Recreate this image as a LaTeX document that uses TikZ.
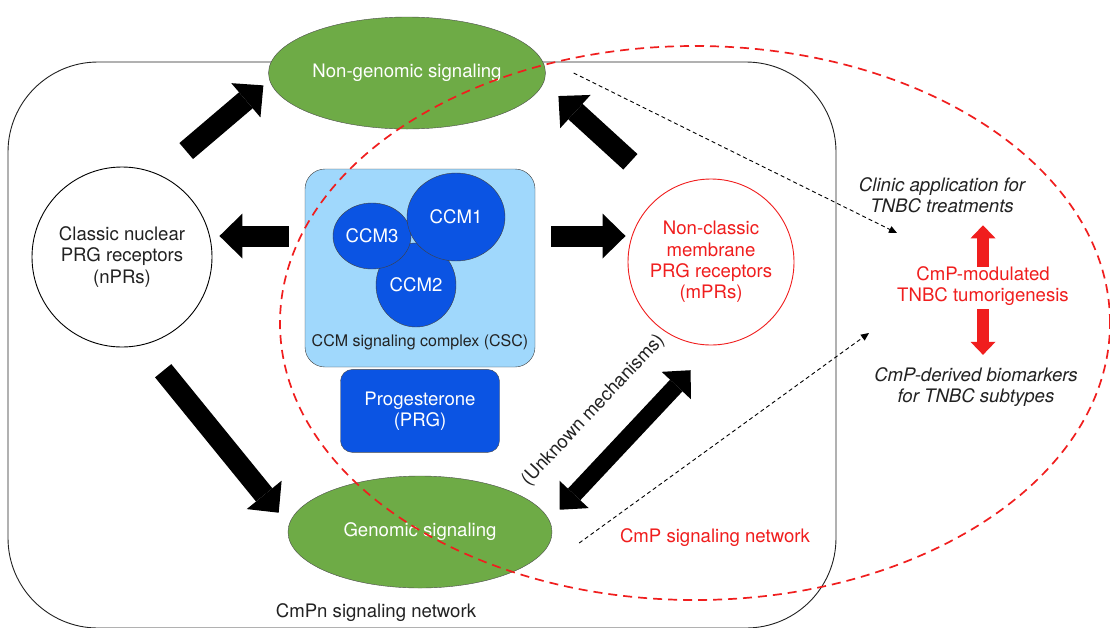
\documentclass[tikz,border=0pt]{standalone}
\usepackage{fontspec}
\setmainfont{TeX Gyre Heros}
\usepackage{tikz}
\usetikzlibrary{arrows.meta, positioning, shapes.geometric, calc}
\usepackage{xcolor}
\definecolor{sigGreen}{HTML}{6EAB46}
\definecolor{cscBlue}{HTML}{A0D8FC}
\definecolor{ccmBlue}{HTML}{0B54E3}
\definecolor{cmpRed}{HTML}{F01E1E}
\definecolor{inkGray}{HTML}{222222}

\begin{document}
\begin{tikzpicture}[
    x=1pt, y=-1pt,
    font=\fontsize{18.6}{21.3}\selectfont,
    every node/.style={text=inkGray},
    sigcell/.style={
        draw=black!70, fill=sigGreen, ellipse, text=white,
        minimum width=264pt, minimum height=112pt
    },
    receptor/.style={draw, circle, align=center, inner sep=0pt, line width=0.9pt},
    ccm/.style={draw=black!75, fill=ccmBlue, ellipse, text=white, inner sep=0pt},
    progbox/.style={
        draw=black!70, fill=ccmBlue, rectangle, rounded corners=12pt, text=white,
        align=center, minimum width=159pt, minimum height=83pt
    },
    note/.style={align=center, font=\fontsize{18.6}{21.3}\selectfont\itshape},
    cmpzone/.style={draw=cmpRed, ellipse, inner sep=0pt, line width=1.7pt, dash pattern=on 9pt off 6pt},
    bigarrow/.style={line width=21pt, -{Triangle[length=23pt, width=45pt, line width=0pt]}},
    duoarrow/.style={line width=17pt,
        {Triangle[length=21pt, width=40pt, line width=0pt]}-{Triangle[length=21pt, width=40pt, line width=0pt]}},
    redarrow/.style={draw=cmpRed, line width=12pt, -{Triangle[length=13pt, width=25pt, line width=0pt]}},
    dasharrow/.style={line width=0.9pt, dash pattern=on 4pt off 3pt, -{Triangle[length=8pt, width=7pt]}}
]
    \useasboundingbox (0,0) rectangle (1110,627);
    \fill[white] (0,0) rectangle (1110,627);

    % CmPn cell
    \node[draw=inkGray, line width=0.9pt, rounded corners=90pt, minimum width=828pt, minimum height=566pt] (cmpn) at (422,345) {};
    \node (cmpnlabel) at (376,613) {CmPn signaling network};

    \node[sigcell] (nongen) at (407,73) {Non-genomic signaling};
    \node[sigcell] (genomic) at (420,532) {Genomic signaling};
    \node[receptor, minimum size=180pt] (nPR) at (122,257) {Classic nuclear\\PRG receptors\\(nPRs)};
    \node[receptor, draw=cmpRed, text=cmpRed, minimum size=166pt] (mPR) at (711,262) {Non-classic\\membrane\\PRG receptors\\(mPRs)};

    % CCM signaling complex
    \node[draw=black!75, fill=cscBlue, rectangle, rounded corners=20pt, minimum width=230pt, minimum height=198pt] (CSC) at (420,268) {};
    \node[ccm, minimum width=80pt, minimum height=84pt] (CCM2) at (416,285) {CCM2};
    \node[ccm, minimum width=78pt, minimum height=66pt] (CCM3) at (372,236) {CCM3};
    \node[ccm, minimum width=98pt, minimum height=88pt] (CCM1) at (456,217) {CCM1};
    \node[font=\fontsize{16}{19}\selectfont, above=14pt of CSC.south] (csclabel) {CCM signaling complex (CSC)};
    \node[progbox, below=2pt of CSC] (PRG) {Progesterone\\(PRG)};

    % TNBC side
    \node[note] (clinic) at (942,195) {Clinic application for\\TNBC treatments};
    \node[align=center, text=cmpRed] (tumor) at (983,286) {CmP-modulated\\TNBC tumorigenesis};
    \node[note] (biomark) at (976,387) {CmP-derived biomarkers\\for TNBC subtypes};
    \node[text=cmpRed] (cmplabel) at (715,538) {CmP signaling network};
    \coordinate (clinicend) at (897,233);
    \coordinate (tumorend) at (869,333);

    \draw[bigarrow, shorten <=36pt, shorten >=8pt] (nPR.66) -- (nongen.183);
    \draw[bigarrow, shorten <=46pt, shorten >=20pt] (mPR.124) -- (nongen.-4);
    \draw[bigarrow, shorten <=16pt, shorten >=7pt] (CSC.west |- CCM3) -- (nPR.east |- CCM3);
    \draw[bigarrow, shorten <=16pt, shorten >=2pt] (CSC.east |- CCM3) -- (mPR.west |- CCM3);
    \draw[bigarrow, shorten <=33pt, shorten >=16pt] (nPR.-77) -- (genomic.177);
    \draw[duoarrow, shorten <=15pt, shorten >=34pt] (genomic.5)
        -- node[sloped, above=23pt, pos=0.46] (unknown) {(Unknown mechanisms)} (mPR.-88);

    \draw[redarrow, shorten <=-4pt, shorten >=9pt] (tumor.north) -- (tumor.north |- clinic.south);
    \draw[redarrow, shorten >=9pt] (tumor.south) -- (tumor.south |- biomark.north);

    \draw[dasharrow] ([xshift=28pt]nongen.east) -- (clinicend);
    \draw[dasharrow] ([xshift=27pt, yshift=-11pt]genomic.east) -- (tumorend);

    % CmP signaling network
    \node[cmpzone, minimum width=830pt, minimum height=554pt] (cmp) at (695,323) {};
\end{tikzpicture}
\end{document}
